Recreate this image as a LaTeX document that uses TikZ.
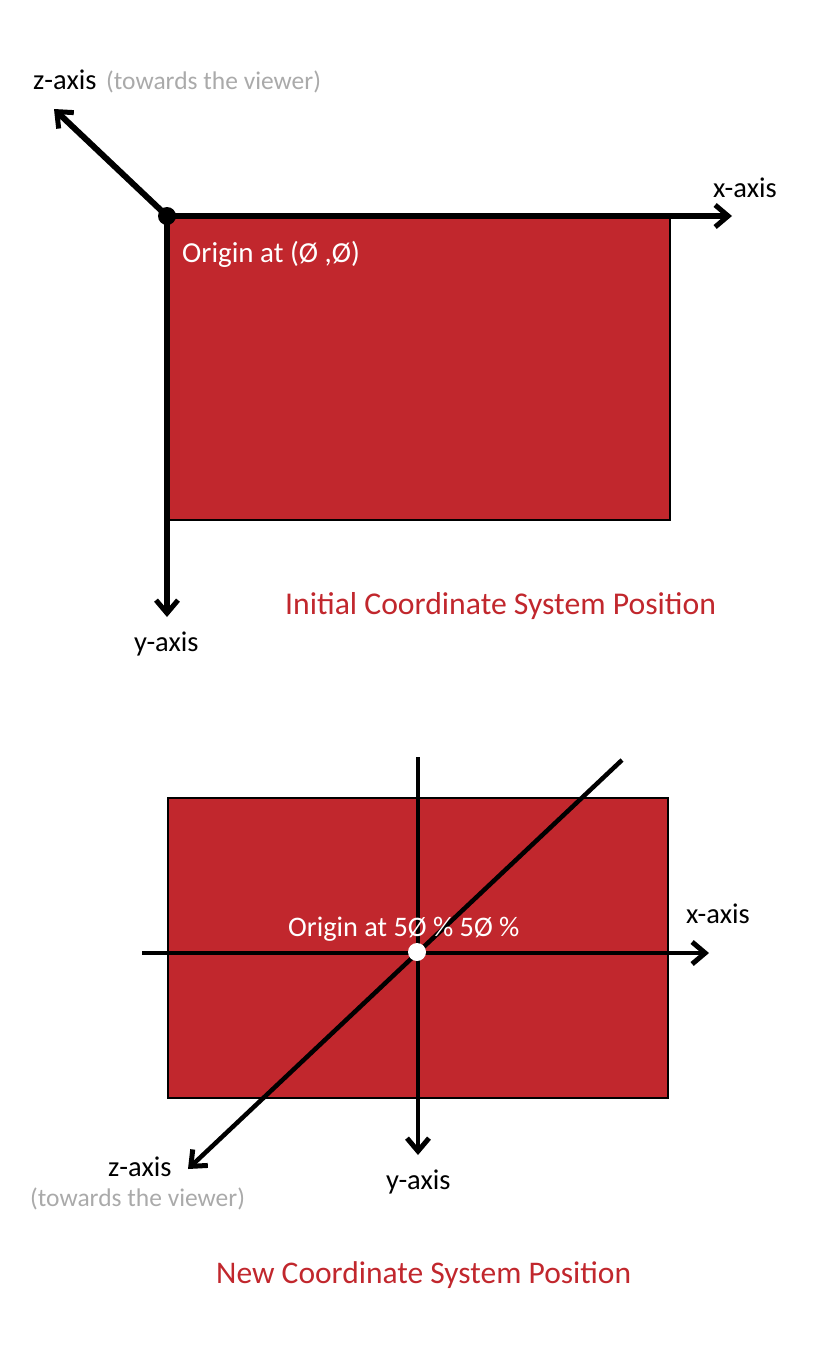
\documentclass[tikz,border=0pt]{standalone}
\usepackage{fontspec}
\setmainfont{Carlito}
\usetikzlibrary{arrows.meta}
\definecolor{boxred}{HTML}{C1272D}
\definecolor{note}{HTML}{AAAAAA}
\tikzset{
  redbox/.style={fill=boxred,draw=black,line width=2pt},
  axis/.style={line width=6pt,-{Straight Barb[length=13pt,width=22pt,line width=5pt]}},
  lbl/.style={inner sep=0pt,anchor=base west,font=\fontsize{28.5}{32}\selectfont},
  graylbl/.style={lbl,text=note,font=\fontsize{25.5}{30}\selectfont},
  whitelbl/.style={lbl,text=white,font=\fontsize{29}{32}\selectfont},
  title/.style={inner sep=0pt,anchor=base west,text=boxred,font=\fontsize{31.7}{36}\selectfont},
}
\begin{document}
\begin{tikzpicture}[x=1pt,y=-1pt]
\useasboundingbox (0,0) rectangle (814,1365);
% ---------- top ----------
\node[redbox,minimum width=502pt,minimum height=303pt,anchor=north west,inner sep=0pt] (r1) at (167,216) {};
\coordinate (o1) at (167,216);
\coordinate (x1) at (732,216);
\coordinate (y1) at (167,617);
\coordinate (z1) at (54,109);
\draw[axis] (o1) -- (x1);
\draw[axis,line width=5.5pt] (o1) -- (y1);
\draw[axis] (o1) -- (z1);
\fill[black] (o1) circle (9pt);
\node[lbl] (zl1) at (33,89) {z-axis};
\node[graylbl] (zn1) at (106,89) {(towards the viewer)};
\node[lbl] (xl1) at (713,197) {x-axis};
\node[whitelbl] (ol1) at (182,262) {Origin at (Ø ,Ø)};
\node[lbl] (yl1) at (134,651) {y-axis};
\node[title] (t1) at (285,614) {Initial Coordinate System Position};
% ---------- bottom ----------
\node[redbox,minimum width=500pt,minimum height=300pt,anchor=north west,inner sep=0pt] (r2) at (167,797) {};
\coordinate (o2) at (417,952);
\coordinate (xs2) at (142,953);
\coordinate (x2) at (709,953);
\coordinate (ys2) at (418,757);
\coordinate (y2) at (418,1155);
\coordinate (zs2) at (622,760);
\coordinate (z2) at (188,1169);
\draw[axis,line width=4.5pt] (xs2) -- (x2);
\draw[axis,line width=4.5pt] (ys2) -- (y2);
\draw[axis,line width=4.5pt] (zs2) -- (z2);
\fill[white] (o2) circle (9pt);
\node[whitelbl,font=\fontsize{28.3}{32}\selectfont] (ol2) at (288,936) {Origin at 5Ø \% 5Ø \%};
\node[lbl] (xl2) at (686,923) {x-axis};
\node[lbl] (zl2) at (108,1176) {z-axis};
\node[graylbl] (zn2) at (30,1206) {(towards the viewer)};
\node[lbl] (yl2) at (386,1189) {y-axis};
\node[title,font=\fontsize{31.5}{36}\selectfont] (t2) at (216,1283) {New Coordinate System Position};
\end{tikzpicture}
\end{document}
